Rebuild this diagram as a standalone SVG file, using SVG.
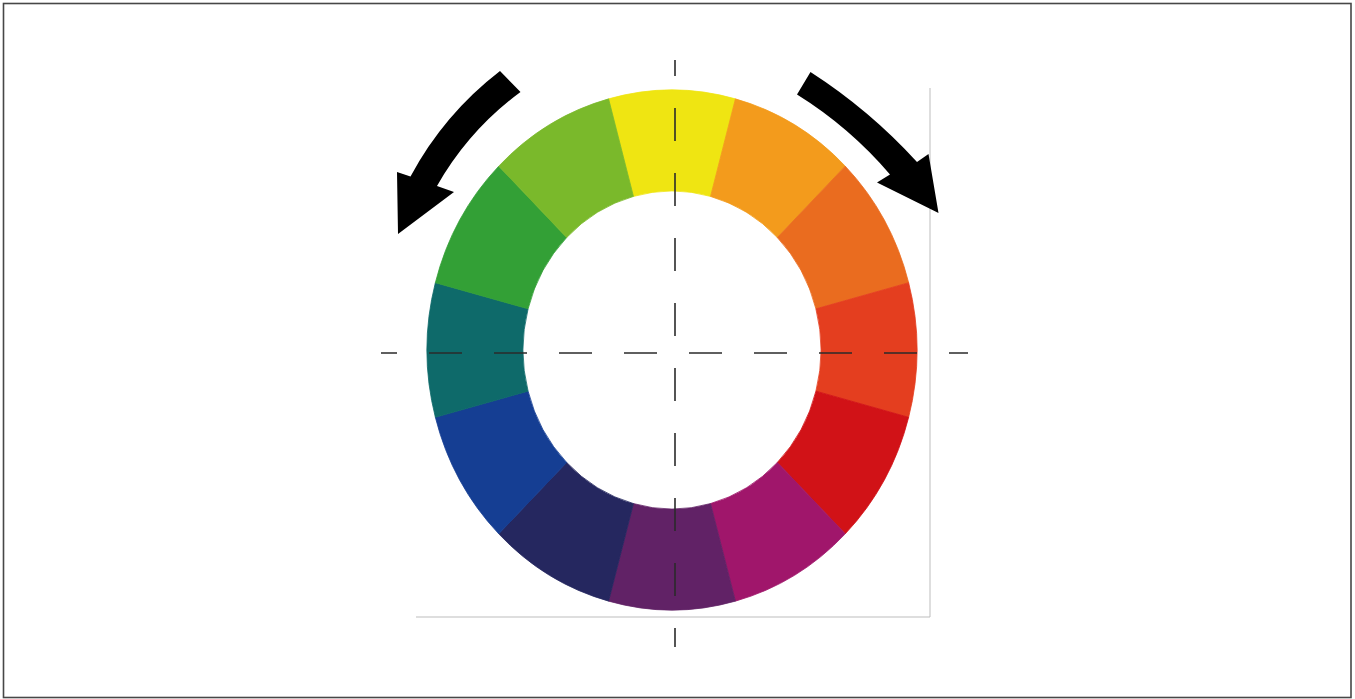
<svg xmlns="http://www.w3.org/2000/svg" width="1355" height="699" viewBox="0 0 1355 699">
<style>
.frame{fill:none;stroke:#474747;stroke-width:1.6}
.guide{fill:none;stroke:#bdbdbd;stroke-width:1}
.seg{stroke-width:0.8;stroke-linejoin:round}
.axis{fill:none;stroke:#2b2b2b;stroke-width:1.6;stroke-dasharray:33 32;stroke-dashoffset:17}
.arrow{fill:#000;stroke:none}
</style>
<rect x="0" y="0" width="1355" height="699" fill="#fff"/>
<rect class="frame" x="3.5" y="3.5" width="1347.5" height="694"/>
<g id="guides">
<path class="guide" d="M930,88 V617 H416"/>
</g>
<g id="wheel">
<path id="seg-yellow" class="seg" fill="#efe512" stroke="#efe512" d="M608.59,98.87 A245,260 0 0 1 735.41,98.87 L710.56,196.42 A149,159 0 0 0 633.44,196.42 Z"/>
<path id="seg-yellow-orange" class="seg" fill="#f39b1c" stroke="#f39b1c" d="M735.41,98.87 A245,260 0 0 1 845.24,166.15 L777.36,237.57 A149,159 0 0 0 710.56,196.42 Z"/>
<path id="seg-orange" class="seg" fill="#ea6c1f" stroke="#ea6c1f" d="M845.24,166.15 A245,260 0 0 1 908.65,282.71 L815.92,308.85 A149,159 0 0 0 777.36,237.57 Z"/>
<path id="seg-red-orange" class="seg" fill="#e43e1f" stroke="#e43e1f" d="M908.65,282.71 A245,260 0 0 1 908.65,417.29 L815.92,391.15 A149,159 0 0 0 815.92,308.85 Z"/>
<path id="seg-red" class="seg" fill="#d11217" stroke="#d11217" d="M908.65,417.29 A245,260 0 0 1 845.24,533.85 L777.36,462.43 A149,159 0 0 0 815.92,391.15 Z"/>
<path id="seg-magenta" class="seg" fill="#a0166b" stroke="#a0166b" d="M845.24,533.85 A245,260 0 0 1 735.41,601.13 L710.56,503.58 A149,159 0 0 0 777.36,462.43 Z"/>
<path id="seg-purple" class="seg" fill="#612266" stroke="#612266" d="M735.41,601.13 A245,260 0 0 1 608.59,601.13 L633.44,503.58 A149,159 0 0 0 710.56,503.58 Z"/>
<path id="seg-navy" class="seg" fill="#25275f" stroke="#25275f" d="M608.59,601.13 A245,260 0 0 1 498.76,533.85 L566.64,462.43 A149,159 0 0 0 633.44,503.58 Z"/>
<path id="seg-blue" class="seg" fill="#153e93" stroke="#153e93" d="M498.76,533.85 A245,260 0 0 1 435.35,417.29 L528.08,391.15 A149,159 0 0 0 566.64,462.43 Z"/>
<path id="seg-teal" class="seg" fill="#0e6a6a" stroke="#0e6a6a" d="M435.35,417.29 A245,260 0 0 1 435.35,282.71 L528.08,308.85 A149,159 0 0 0 528.08,391.15 Z"/>
<path id="seg-green" class="seg" fill="#33a036" stroke="#33a036" d="M435.35,282.71 A245,260 0 0 1 498.76,166.15 L566.64,237.57 A149,159 0 0 0 528.08,308.85 Z"/>
<path id="seg-yellow-green" class="seg" fill="#7ab92b" stroke="#7ab92b" d="M498.76,166.15 A245,260 0 0 1 608.59,98.87 L633.44,196.42 A149,159 0 0 0 566.64,237.57 Z"/>
</g>
<g id="axes">
<line class="axis" x1="675" y1="60" x2="675" y2="647"/>
<line class="axis" x1="381" y1="353" x2="968" y2="353"/>
</g>
<g id="connectors">
<path id="arrow-left" class="arrow" d="M500,71 A330,330 0 0 0 410.5,176.5 L397,172 L398,234 L454,192 L437,186 A303,303 0 0 1 520.5,92 Z"/>
<path id="arrow-right" class="arrow" d="M810.5,72 A540,540 0 0 1 917,162 L928.5,154 L938.5,213 L877,182.5 L890,174.5 A400,400 0 0 0 797,94.5 Z"/>
</g>
</svg>
